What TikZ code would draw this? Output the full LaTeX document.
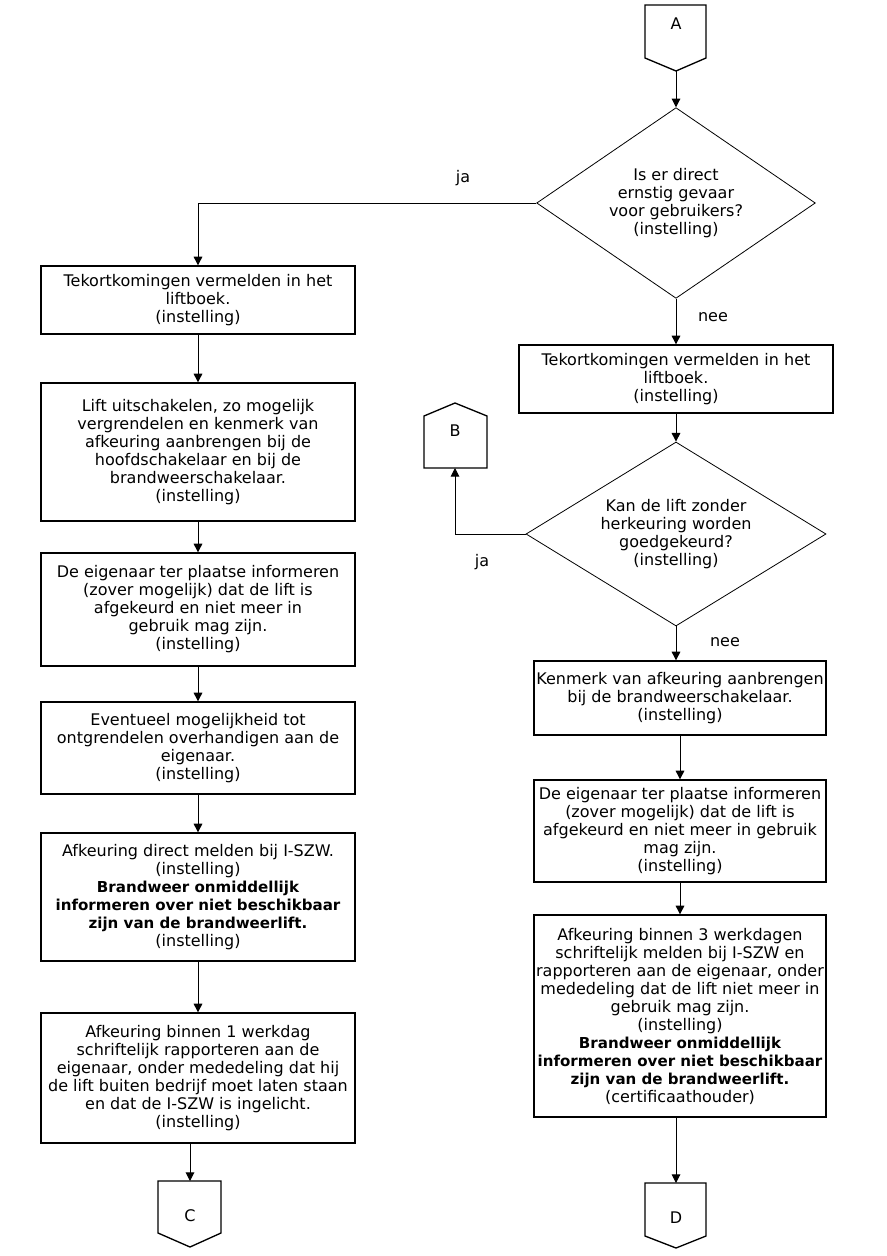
\documentclass[tikz,border=0pt]{standalone}
\usepackage{fontspec}
\setmainfont{DejaVu Sans}
\usepackage{tikz}
\usetikzlibrary{shapes.geometric,arrows.meta,positioning,calc}

% bold warning lines, set a little narrower
\newcommand{\warnline}[1]{{\fontsize{11.3}{13.5}\selectfont\bfseries #1}}

\tikzset{
  flowtext/.style={font=\fontsize{12}{13.5}\selectfont, align=center},
  actbox/.style={flowtext, draw, line width=1pt, inner sep=1pt},
  leftbox/.style={actbox, minimum width=235.5pt},
  rightbox/.style={actbox, minimum width=219pt},
  decision/.style={flowtext, draw, diamond, line width=0.6pt, inner sep=0pt},
  offpage/.style={draw, line width=1pt},
  link/.style={line width=0.75pt, -{Triangle[length=6.5pt,width=6.5pt]}},
}

\begin{document}
\begin{tikzpicture}[x=0.75pt,y=-0.75pt]
  \useasboundingbox (0,0) rectangle (886,1256);

  % ---------- off-page connectors ----------
  % A (entry, top)
  \draw[offpage] (645,5) -- (706,5) -- (706,58) -- (676,71) -- (645,58) -- cycle;
  \node[flowtext] (A) at (676,24) {A};
  \coordinate (Aout) at (676,71);

  % B (exit, upwards)
  \draw[offpage] (455,403) -- (487,416) -- (487,468) -- (424,468) -- (424,416) -- cycle;
  \node[flowtext] (B) at (455,431) {B};
  \coordinate (Bin) at (455,468);

  % C (exit, left column)
  \draw[offpage] (158,1181) -- (221,1181) -- (221,1233) -- (190,1247) -- (158,1233) -- cycle;
  \node[flowtext] (C) at (190,1216) {C};
  \coordinate (Cin) at (190,1181);

  % D (exit, right column)
  \draw[offpage] (645,1183) -- (706,1183) -- (706,1236) -- (676,1248) -- (645,1236) -- cycle;
  \node[flowtext] (D) at (676,1218) {D};
  \coordinate (Din) at (676,1183);

  % ---------- decisions ----------
  \node[decision, minimum width=209pt, minimum height=143pt, aspect=1.46] (q1) at (676,203)
    {Is er direct\\ernstig gevaar\\voor gebruikers?\\(instelling)};
  \node[decision, minimum width=225pt, minimum height=138pt, aspect=1.63] (q2) at (676,534)
    {Kan de lift zonder\\herkeuring worden\\goedgekeurd?\\(instelling)};

  % ---------- left column: ja ----------
  \node[leftbox, minimum height=51pt] (l1) at (198,300)
    {Tekortkomingen vermelden in het\\liftboek.\\(instelling)};
  \node[leftbox, minimum height=103.5pt] (l2) at (198,452)
    {Lift uitschakelen, zo mogelijk\\vergrendelen en kenmerk van\\afkeuring aanbrengen bij de\\hoofdschakelaar en bij de\\brandweerschakelaar.\\(instelling)};
  \node[leftbox, minimum height=84.75pt] (l3) at (198,609.5)
    {De eigenaar ter plaatse informeren\\(zover mogelijk) dat de lift is\\afgekeurd en niet meer in\\gebruik mag zijn.\\(instelling)};
  \node[leftbox, minimum height=69pt] (l4) at (198,748)
    {Eventueel mogelijkheid tot\\ontgrendelen overhandigen aan de\\eigenaar.\\(instelling)};
  \node[leftbox, minimum height=96pt] (l5) at (198,897)
    {Afkeuring direct melden bij I-SZW.\\(instelling)\\\warnline{Brandweer onmiddellijk}\\\warnline{informeren over niet beschikbaar}\\\warnline{zijn van de brandweerlift.}\\(instelling)};
  \node[leftbox, minimum height=97.5pt] (l6) at (198,1078)
    {Afkeuring binnen 1 werkdag\\schriftelijk rapporteren aan de\\eigenaar, onder mededeling dat hij\\de lift buiten bedrijf moet laten staan\\en dat de I-SZW is ingelicht.\\(instelling)};

  % ---------- right column: nee ----------
  \node[leftbox, minimum height=51pt] (r1) at (676,379)
    {Tekortkomingen vermelden in het\\liftboek.\\(instelling)};
  \node[rightbox, minimum height=55.5pt] (r2) at (680,698)
    {Kenmerk van afkeuring aanbrengen\\bij de brandweerschakelaar.\\(instelling)};
  \node[rightbox, minimum height=76.5pt] (r3) at (680,831)
    {De eigenaar ter plaatse informeren\\(zover mogelijk) dat de lift is\\afgekeurd en niet meer in gebruik\\mag zijn.\\(instelling)};
  \node[rightbox, minimum height=151.5pt] (r4) at (680,1016)
    {Afkeuring binnen 3 werkdagen\\schriftelijk melden bij I-SZW en\\rapporteren aan de eigenaar, onder\\mededeling dat de lift niet meer in\\gebruik mag zijn.\\(instelling)\\\warnline{Brandweer onmiddellijk}\\\warnline{informeren over niet beschikbaar}\\\warnline{zijn van de brandweerlift.}\\(certificaathouder)};

  % ---------- branch labels ----------
  \node[flowtext] (ja1) at (463,178) {ja};
  \node[flowtext] (nee1) at (713,317) {nee};
  \node[flowtext] (ja2) at (482,562) {ja};
  \node[flowtext] (nee2) at (725,642) {nee};

  % ---------- connectors ----------
  \draw[link] (Aout) -- (q1.north);
  \draw[link] (q1.west) -| (l1.north);
  \draw[link] (q1.south) -- (r1.north);
  \draw[link] (r1.south) -- (q2.north);
  \draw[link] (q2.west) -| (Bin);
  \draw[link] (q2.south) -- (q2.south |- r2.north);
  \draw[link] (r2.south) -- (r3.north);
  \draw[link] (r3.south) -- (r4.north);
  \draw[link] (r4.south -| Din) -- (Din);
  \foreach \a/\b in {l1/l2,l2/l3,l3/l4,l4/l5,l5/l6}
    \draw[link] (\a.south) -- (\b.north);
  \draw[link] (l6.south -| Cin) -- (Cin);
\end{tikzpicture}
\end{document}
